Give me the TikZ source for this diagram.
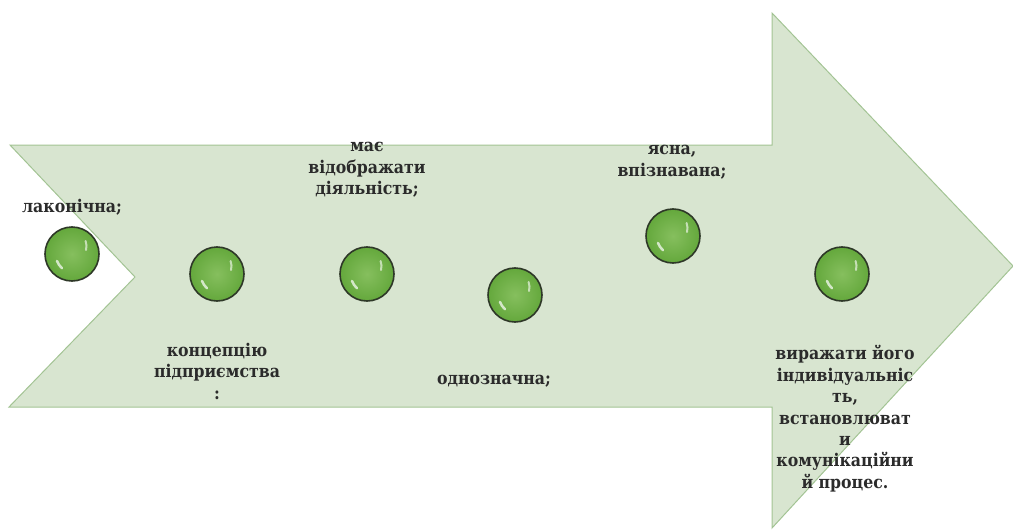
\documentclass[tikz,border=0pt]{standalone}
\usepackage{fontspec}
\setmainfont{DejaVu Serif Condensed}
\definecolor{arrowfill}{HTML}{D8E5D0}
\definecolor{arrowedge}{HTML}{A3C494}
\definecolor{ballgreen}{HTML}{64A83C}
\definecolor{balllight}{HTML}{86BF5E}
\definecolor{balledge}{HTML}{2E3828}
\definecolor{txt}{HTML}{2B2B2B}
\begin{document}
\begin{tikzpicture}[x=1pt,y=-1pt,
  ball/.style={circle,minimum size=54pt,inner sep=0pt,draw=balledge,line width=1.6pt,
    inner color=balllight,outer color=ballgreen},
  lbl/.style={align=center,text=txt,font=\fontsize{17.5}{21.5}\selectfont\bfseries,inner sep=0pt}]
\useasboundingbox (0,0) rectangle (1013,530);
% arrow body
\draw[fill=arrowfill,draw=arrowedge,line width=1pt,line join=miter]
  (10,145) -- (772,145) -- (772,13) -- (1013,266) -- (772,528) -- (772,407)
  -- (9,407) -- (135,277) -- cycle;
% balls
\node[ball] (b1) at (72,254) {};
\node[ball] (b2) at (217,274) {};
\node[ball] (b3) at (367,274) {};
\node[ball] (b4) at (515,295) {};
\node[ball] (b5) at (673,236) {};
\node[ball] (b6) at (842,274) {};
% highlights
\foreach \b in {b1,b2,b3,b4,b5,b6}{
  \draw[white,opacity=0.7,line width=2.5pt,line cap=round]
    ([shift={(-15,7)}]\b.center) arc[start angle=200,end angle=230,radius=17pt];
  \draw[white,opacity=0.6,line width=2pt,line cap=round]
    ([shift={(14,-4)}]\b.center) arc[start angle=-15,end angle=20,radius=15pt];
}
% labels
\node[lbl,anchor=base] (t1) at (72,212) {лаконічна;};
\node[lbl,anchor=north] (t2) at (217,343) {концепцію\\підприємства\\:};
\node[lbl,anchor=north] (t3) at (367,142) {має\\відображати\\діяльність;};
\node[lbl,anchor=base] (t4) at (494,384) {однозначна;};
\node[lbl,anchor=north] (t5) at (672,145) {ясна,\\впізнавана;};
\node[lbl,anchor=north] (t6) at (845,345) {виражати його\\індивідуальніс\\ть,\\встановлюват\\и\\комунікаційни\\й процес.};
\end{tikzpicture}
\end{document}
